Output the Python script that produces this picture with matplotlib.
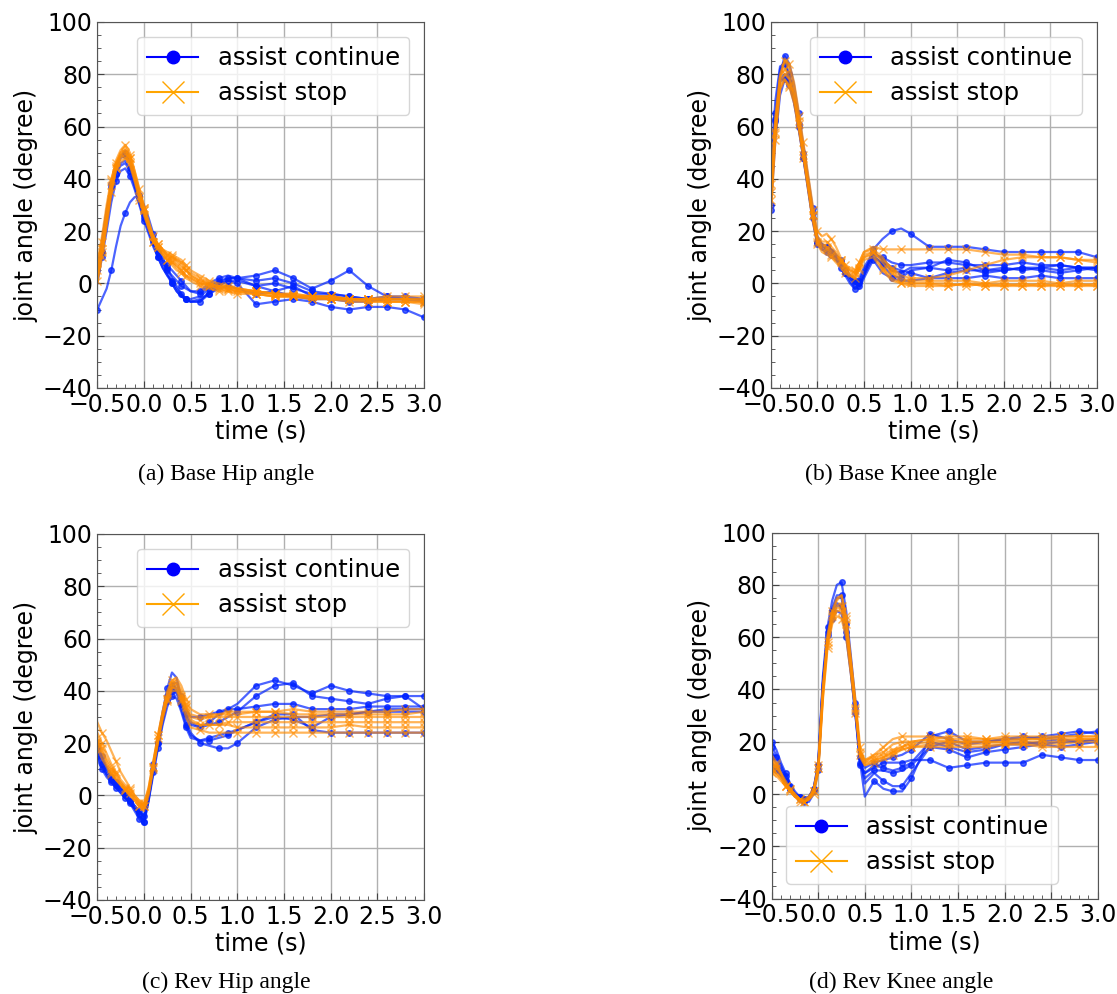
import numpy as np
import matplotlib
matplotlib.use('Agg')
import matplotlib.pyplot as plt
from matplotlib.lines import Line2D
from matplotlib.ticker import AutoMinorLocator

# time grid (s): fine around the swing, coarser afterwards
T = [-0.5, -0.45, -0.4, -0.35, -0.3, -0.25, -0.2, -0.15, -0.1, -0.05, 0.0,
     0.05, 0.1, 0.15, 0.2, 0.25, 0.3, 0.35, 0.4, 0.45, 0.5,
     0.6, 0.7, 0.8, 0.9, 1.0,
     1.2, 1.4, 1.6, 1.8, 2.0, 2.2, 2.4, 2.6, 2.8, 3.0]

# (a) Base Hip angle
base_hip_continue = [
    [-10, -6, -2, 5, 14, 22, 27, 31, 33, 33, 30, 25, 19, 14, 10, 6, 2, -1, -4, -6, -7, -7, -3, 0, 1, 0, -8, -7, -6, -7, -9, -10, -9, -9, -10, -13],
    [3, 12, 23, 34, 42, 46, 47, 44, 38, 31, 25, 20, 15, 10, 6, 3, 1, -2, -4, -6, -7, -6, -4, -1, 1, 1, -1, 0, -2, -4, -4, -5, -6, -6, -6, -6],
    [5, 15, 27, 37, 44, 48, 49, 46, 40, 33, 27, 21, 16, 12, 9, 7, 5, 3, 1, -1, -3, -4, -1, 1, 2, 2, 3, 5, 2, -2, 1, 5, -1, -5, -6, -6],
    [0, 10, 20, 31, 39, 43, 44, 41, 36, 30, 24, 19, 14, 10, 6, 3, 0, -3, -5, -6, -6, -5, -2, 0, 2, 2, 1, 2, 0, -3, -4, -5, -6, -6, -6, -6],
    [6, 16, 28, 38, 45, 49, 50, 47, 41, 34, 28, 22, 17, 12, 8, 5, 3, 1, -1, -2, -3, -3, 0, 2, 3, 2, -1, -3, -1, -5, -5, -6, -6, -5, -5, -6],
    [2, 12, 24, 35, 42, 45, 46, 43, 37, 31, 26, 21, 16, 12, 8, 4, 0, -3, -5, -6, -7, -7, -4, -2, -1, -2, -4, -3, -5, -6, -6, -7, -7, -6, -6, -7],
]
base_hip_stop = [
    [0, 10, 22, 34, 44, 49, 51, 48, 41, 34, 28, 22, 17, 14, 12, 10, 9, 8, 6, 5, 3, 1, 0, -1, -2, -2, -3, -4, -5, -5, -6, -6, -6, -7, -7, -7],
    [5, 15, 27, 39, 47, 51, 53, 50, 43, 36, 30, 24, 18, 15, 13, 11, 10, 9, 8, 6, 4, 2, 0, -1, -1, -2, -3, -4, -4, -5, -5, -6, -6, -6, -6, -6],
    [2, 12, 24, 36, 45, 50, 51, 48, 42, 35, 29, 23, 17, 14, 12, 10, 8, 7, 5, 3, 2, 0, -1, -2, -3, -3, -4, -5, -5, -5, -6, -6, -7, -7, -7, -7],
    [8, 18, 30, 40, 46, 49, 50, 46, 40, 33, 27, 21, 16, 13, 11, 9, 8, 6, 5, 3, 2, 0, -1, -2, -2, -3, -4, -5, -5, -6, -6, -6, -6, -5, -5, -5],
    [3, 13, 25, 36, 44, 48, 49, 46, 40, 34, 28, 22, 18, 15, 13, 12, 11, 10, 9, 7, 5, 3, 1, 0, -1, -2, -3, -4, -4, -5, -5, -6, -6, -6, -6, -6],
    [1, 11, 23, 35, 43, 47, 48, 45, 39, 32, 26, 21, 16, 13, 11, 9, 7, 5, 4, 2, 1, -1, -2, -3, -3, -4, -4, -5, -5, -6, -6, -7, -7, -7, -7, -8],
    [6, 16, 28, 39, 46, 50, 52, 49, 43, 36, 29, 23, 18, 15, 13, 11, 10, 9, 7, 5, 3, 1, -1, -1, -2, -3, -3, -4, -5, -5, -5, -6, -6, -6, -6, -7],
]

# (b) Base Knee angle
base_knee_continue = [
    [30, 60, 80, 87, 84, 76, 65, 53, 41, 29, 18, 15, 14, 13, 11, 8, 5, 2, 0, -1, 3, 13, 17, 20, 21, 19, 14, 14, 14, 13, 12, 12, 12, 12, 12, 10],
    [40, 65, 82, 85, 80, 72, 62, 50, 38, 26, 16, 14, 13, 12, 10, 7, 4, 1, -2, -1, 3, 10, 8, 5, 4, 6, 6, 9, 8, 5, 5, 6, 6, 7, 6, 6],
    [28, 55, 72, 78, 76, 70, 60, 49, 37, 25, 15, 13, 12, 11, 9, 6, 3, 0, -2, -2, 2, 9, 4, 2, 1, 1, 2, 4, 5, 5, 6, 5, 6, 5, 6, 5],
    [35, 62, 78, 80, 77, 70, 60, 48, 37, 25, 16, 14, 14, 12, 10, 8, 5, 3, 1, 0, 4, 11, 7, 3, 2, 5, 6, 5, 6, 4, 5, 6, 5, 4, 5, 6],
    [45, 70, 83, 84, 79, 71, 61, 50, 39, 27, 17, 15, 14, 13, 11, 9, 6, 3, 1, 2, 6, 12, 9, 6, 5, 4, 2, 2, 2, 3, 2, 2, 3, 2, 2, 2],
    [38, 63, 77, 79, 76, 69, 59, 48, 36, 24, 15, 13, 12, 11, 9, 7, 4, 2, 0, 1, 5, 11, 10, 8, 7, 7, 8, 8, 7, 7, 7, 8, 7, 7, 6, 6],
]
base_knee_stop = [
    [30, 58, 78, 86, 84, 77, 66, 54, 42, 30, 20, 18, 19, 17, 14, 10, 7, 5, 4, 8, 12, 14, 13, 13, 13, 13, 13, 13, 13, 12, 11, 11, 10, 10, 9, 9],
    [35, 62, 80, 85, 82, 75, 64, 52, 40, 28, 18, 16, 16, 14, 12, 9, 6, 3, 2, 6, 10, 12, 8, 4, 1, 0, 0, -1, 0, -1, -1, 0, -1, -1, 0, -1],
    [25, 55, 74, 78, 76, 70, 60, 49, 37, 25, 16, 13, 12, 11, 9, 7, 5, 4, 3, 6, 10, 11, 6, 2, 0, 0, 0, 0, -1, 0, -1, -1, 0, -1, -1, 0],
    [32, 60, 76, 80, 78, 72, 62, 50, 38, 26, 17, 14, 13, 12, 10, 8, 6, 5, 4, 7, 11, 12, 9, 6, 3, 2, 2, 3, 5, 7, 9, 10, 10, 10, 9, 8],
    [28, 57, 75, 78, 75, 69, 59, 48, 36, 24, 15, 12, 11, 10, 8, 6, 4, 3, 2, 5, 9, 10, 5, 1, 0, -1, -1, -1, 0, -1, 0, -1, -1, 0, -1, -1],
    [38, 64, 79, 82, 79, 72, 61, 50, 38, 26, 17, 15, 14, 13, 11, 9, 7, 6, 5, 8, 12, 13, 10, 5, 2, 1, 1, 1, 1, 0, 1, 1, 1, 0, 1, 1],
]

# (c) Rev Hip angle
rev_hip_continue = [
    [18, 13, 9, 6, 4, 2, 0, -3, -6, -9, -11, -2, 10, 21, 32, 41, 47, 45, 37, 29, 24, 20, 19, 18, 18, 20, 26, 29, 30, 30, 31, 31, 32, 33, 33, 33],
    [20, 15, 11, 8, 5, 3, 1, -2, -5, -8, -10, -1, 10, 20, 30, 38, 42, 41, 36, 31, 28, 26, 28, 31, 33, 35, 42, 44, 42, 39, 42, 40, 39, 38, 38, 38],
    [15, 11, 8, 5, 3, 1, -1, -3, -5, -7, -9, -1, 9, 19, 28, 36, 41, 40, 35, 30, 27, 26, 27, 28, 30, 32, 38, 42, 43, 38, 37, 36, 35, 37, 38, 33],
    [16, 12, 8, 6, 4, 2, 0, -2, -4, -6, -8, 0, 10, 20, 29, 36, 40, 39, 33, 27, 23, 21, 22, 23, 24, 25, 28, 31, 31, 25, 24, 24, 24, 24, 24, 24],
    [19, 14, 10, 7, 5, 3, 1, -1, -4, -6, -8, 1, 12, 22, 31, 38, 43, 43, 38, 33, 30, 30, 31, 32, 33, 33, 34, 35, 35, 33, 33, 33, 34, 34, 34, 34],
    [14, 10, 7, 5, 3, 1, -1, -3, -5, -8, -10, -2, 8, 18, 27, 34, 38, 37, 32, 26, 22, 21, 21, 22, 23, 25, 28, 30, 29, 26, 30, 31, 32, 32, 32, 32],
]
rev_hip_stop = [
    [28, 24, 21, 17, 13, 9, 6, 3, 0, -2, -4, 3, 13, 23, 32, 40, 44, 45, 42, 37, 33, 31, 31, 31, 32, 32, 32, 32, 31, 31, 31, 31, 31, 31, 31, 32],
    [20, 16, 12, 9, 6, 4, 2, 0, -2, -4, -5, 1, 11, 21, 30, 37, 41, 42, 38, 33, 30, 29, 30, 30, 30, 30, 30, 30, 30, 30, 30, 30, 30, 30, 30, 30],
    [22, 18, 14, 11, 8, 5, 3, 1, -1, -3, -4, 2, 12, 22, 31, 38, 42, 43, 39, 34, 29, 27, 27, 27, 28, 28, 28, 28, 28, 28, 28, 28, 28, 28, 28, 28],
    [18, 14, 11, 8, 6, 4, 2, 0, -2, -4, -6, 0, 10, 20, 29, 36, 40, 40, 36, 30, 26, 25, 24, 24, 24, 24, 24, 24, 24, 24, 24, 24, 24, 24, 24, 24],
    [24, 20, 16, 12, 9, 6, 4, 2, 0, -2, -3, 3, 13, 23, 32, 39, 43, 44, 40, 35, 31, 30, 30, 31, 31, 31, 32, 32, 33, 32, 32, 32, 32, 32, 33, 33],
    [21, 17, 13, 10, 7, 5, 3, 1, -1, -3, -5, 1, 11, 21, 30, 37, 41, 41, 37, 32, 28, 27, 27, 27, 27, 26, 26, 26, 26, 26, 26, 27, 26, 26, 26, 26],
]

# (d) Rev Knee angle
rev_knee_continue = [
    [20, 17, 12, 8, 4, 1, -1, -3, -2, 2, 12, 45, 64, 74, 80, 81, 70, 53, 35, 12, -1, 5, 2, 1, 1, 6, 22, 24, 20, 20, 21, 22, 21, 22, 23, 24],
    [16, 14, 10, 6, 3, 0, -2, -3, -3, 0, 9, 40, 60, 70, 75, 75, 65, 50, 33, 14, 4, 8, 5, 3, 3, 8, 18, 20, 17, 18, 19, 20, 19, 20, 20, 21],
    [14, 12, 9, 5, 2, -1, -2, -2, -1, 2, 10, 42, 61, 68, 72, 72, 63, 48, 31, 12, 6, 9, 9, 8, 9, 11, 18, 17, 14, 16, 17, 18, 19, 18, 19, 20],
    [12, 10, 7, 4, 2, 0, -1, -2, -2, 1, 11, 43, 62, 70, 73, 72, 62, 47, 30, 11, 8, 10, 12, 12, 12, 13, 13, 10, 11, 12, 12, 12, 15, 14, 13, 13],
    [18, 15, 11, 7, 3, 0, -1, -2, -2, 1, 10, 41, 62, 71, 76, 76, 66, 51, 33, 13, 10, 12, 13, 14, 15, 17, 23, 21, 19, 20, 21, 21, 22, 23, 24, 23],
    [10, 9, 7, 4, 2, 0, -1, -2, -1, 2, 11, 42, 60, 67, 70, 69, 60, 46, 30, 12, 8, 11, 10, 9, 10, 12, 20, 18, 16, 17, 19, 19, 20, 21, 20, 21],
]
rev_knee_stop = [
    [12, 10, 7, 4, 1, -1, -2, -3, -2, 1, 10, 40, 60, 69, 74, 76, 68, 52, 36, 18, 12, 15, 18, 21, 22, 22, 22, 21, 21, 21, 21, 21, 21, 22, 22, 22],
    [8, 7, 5, 3, 1, -1, -2, -3, -2, 1, 9, 38, 58, 67, 71, 72, 64, 49, 33, 16, 13, 14, 15, 17, 18, 19, 20, 20, 20, 20, 20, 20, 20, 20, 21, 21],
    [15, 12, 8, 5, 2, 0, -2, -3, -2, 1, 10, 39, 59, 68, 72, 73, 65, 50, 34, 15, 12, 13, 14, 16, 18, 20, 21, 22, 22, 21, 22, 22, 22, 22, 22, 22],
    [10, 8, 6, 3, 1, -1, -3, -3, -2, 0, 8, 36, 56, 65, 68, 67, 60, 46, 31, 15, 11, 12, 13, 15, 17, 18, 19, 19, 19, 19, 19, 19, 19, 19, 20, 20],
    [13, 11, 8, 4, 2, 0, -2, -3, -1, 2, 11, 41, 61, 70, 75, 76, 67, 51, 34, 16, 13, 15, 16, 19, 20, 20, 21, 20, 20, 20, 20, 21, 21, 21, 21, 21],
    [9, 8, 6, 3, 1, -1, -2, -2, -1, 1, 9, 37, 57, 66, 70, 70, 62, 47, 32, 14, 11, 13, 14, 16, 17, 18, 18, 18, 18, 18, 19, 19, 18, 18, 18, 18],
]

panels = [
    (base_hip_continue, base_hip_stop, '(a) Base Hip angle', 'upper right'),
    (base_knee_continue, base_knee_stop, '(b) Base Knee angle', 'upper right'),
    (rev_hip_continue, rev_hip_stop, '(c) Rev Hip angle', 'upper right'),
    (rev_knee_continue, rev_knee_stop, '(d) Rev Knee angle', 'lower left'),
]

plt.rcParams['font.family'] = 'DejaVu Sans'
fig = plt.figure(figsize=(11.17, 9.94), dpi=100)

rects = [
    [0.0871, 0.6097, 0.2925, 0.3682],
    [0.6900, 0.6097, 0.2920, 0.3682],
    [0.0871, 0.0946, 0.2925, 0.3682],
    [0.6908, 0.0960, 0.2920, 0.3682],
]
cap_pos = [(0.2025, 0.523), (0.807, 0.523), (0.2025, 0.012), (0.807, 0.012)]

marks = [0, 3, 6, 9, 12, 15, 18, 21, 23, 25, 26, 27, 28, 29, 30, 31, 32, 33, 34, 35]
marks2 = [1, 4, 7, 10, 13, 16, 19, 22, 24, 26, 27, 28, 29, 30, 31, 32, 33, 34, 35]

for (cont, stop, caption, loc), rect, cp in zip(panels, rects, cap_pos):
    ax = fig.add_axes(rect)
    for i, y in enumerate(cont):
        ax.plot(T, y, color='#0022ff', alpha=0.7, lw=1.6, marker='o', ms=4,
                markevery=marks if i % 2 == 0 else marks2)
    for i, y in enumerate(stop):
        ax.plot(T, y, color='darkorange', alpha=0.65, lw=1.6, marker='x', ms=6,
                markevery=marks2 if i % 2 == 0 else marks)
    ax.set_xlim(-0.5, 3.0)
    ax.set_ylim(-40, 100)
    ax.set_xticks(np.arange(-0.5, 3.01, 0.5))
    ax.set_yticks(np.arange(-40, 101, 20))
    ax.xaxis.set_minor_locator(AutoMinorLocator())
    ax.yaxis.set_minor_locator(AutoMinorLocator())
    ax.tick_params(which='both', direction='in', labelsize=17, color='#444444')
    ax.tick_params(which='major', length=5)
    ax.tick_params(which='minor', length=3)
    for sp in ax.spines.values():
        sp.set_color('#555555')
    ax.grid(True, which='major', color='#b0b0b0', lw=1)
    ax.set_xlabel('time (s)', fontsize=17, labelpad=2)
    ax.set_ylabel('joint angle (degree)', fontsize=17, labelpad=3)
    handles = [Line2D([], [], color='blue', marker='o', ms=9, lw=1.5),
               Line2D([], [], color='orange', marker='x', ms=16, lw=1.5)]
    ax.legend(handles, ['assist continue', 'assist stop'], loc=loc, fontsize=17.5,
              handlelength=2.1, labelspacing=0.45, borderaxespad=0.6)
    fig.text(cp[0], cp[1], caption, ha='center', va='center',
             family='Liberation Serif', fontsize=17)

fig.savefig('out.png', dpi=100)
